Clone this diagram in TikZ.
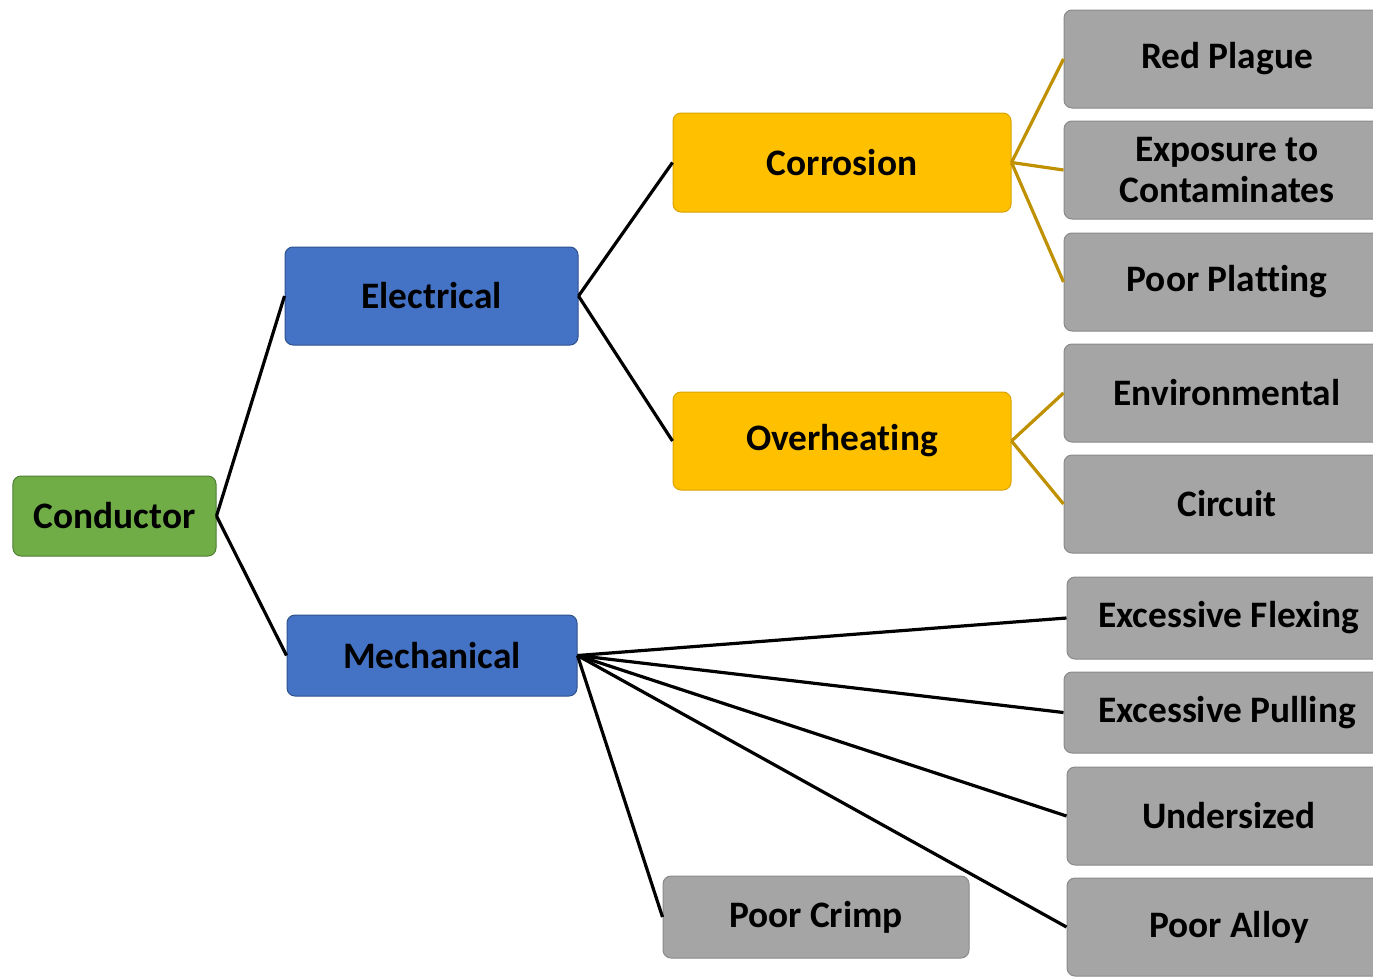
\documentclass[tikz,border=0pt]{standalone}
\usepackage{fontspec}
\setmainfont[RawFeature={-liga}]{Carlito}
\definecolor{cgreen}{HTML}{70AD47}
\definecolor{cgreenb}{HTML}{507E32}
\definecolor{cblue}{HTML}{4472C4}
\definecolor{cblueb}{HTML}{2F528F}
\definecolor{cyell}{HTML}{FFC000}
\definecolor{cyellb}{HTML}{D9A300}
\definecolor{cgray}{HTML}{A5A5A5}
\definecolor{cgrayb}{HTML}{8A8A8A}
\definecolor{cgold}{HTML}{BF9000}
\tikzset{
  box/.style={rounded corners=8bp, line width=1bp, align=center, inner sep=0pt,
    font=\fontsize{37.5}{41}\selectfont\bfseries, text=black},
  gbox/.style={box, fill=cgreen, draw=cgreenb},
  bbox/.style={box, fill=cblue, draw=cblueb},
  ybox/.style={box, fill=cyell, draw=cyellb},
  rbox/.style={box, fill=cgray, draw=cgrayb},
  blk/.style={line width=3.2bp, draw=black},
  gld/.style={line width=3.2bp, draw=cgold},
}
\begin{document}
\begin{tikzpicture}[x=1bp,y=-1bp]
\useasboundingbox (0,0) rectangle (1373,976);
\node[gbox, minimum width=203bp, minimum height=80bp] (cond) at (114.5,516) {Conductor};
\node[bbox, minimum width=293bp, minimum height=98bp] (elec) at (431.5,296) {Electrical};
\node[bbox, minimum width=290bp, minimum height=81bp] (mech) at (432,655.5) {Mechanical};
\node[ybox, minimum width=338bp, minimum height=99bp] (corr) at (842,162.5) {Corrosion};
\node[ybox, minimum width=338bp, minimum height=98bp] (over) at (842,441) {Overheating};
\node[rbox, minimum width=326bp, minimum height=98bp] (red) at (1227,59) {Red Plague};
\node[rbox, minimum width=326bp, minimum height=98bp] (expo) at (1227,170) {Exposure to\\Contaminates};
\node[rbox, minimum width=326bp, minimum height=98bp] (plat) at (1227,282) {Poor Platting};
\node[rbox, minimum width=326bp, minimum height=98bp] (env) at (1227,393) {Environmental};
\node[rbox, minimum width=326bp, minimum height=98bp] (circ) at (1227,504) {Circuit};
\node[rbox, minimum width=324bp, minimum height=82bp] (flex) at (1229,618) {Excessive Flexing};
\node[rbox, minimum width=326bp, minimum height=81bp] (pull) at (1227,712.5) {Excessive Pulling};
\node[rbox, minimum width=324bp, minimum height=98bp] (under) at (1229,816) {Undersized};
\node[rbox, minimum width=324bp, minimum height=98bp] (alloy) at (1229,927) {Poor Alloy};
\node[rbox, minimum width=306bp, minimum height=82bp] (crimp) at (816,917) {Poor Crimp};
\draw[blk] (cond.east) -- (elec.west);
\draw[blk] (cond.east) -- (mech.west);
\draw[blk] (elec.east) -- (corr.west);
\draw[blk] (elec.east) -- (over.west);
\draw[gld] (corr.east) -- (red.west);
\draw[gld] (corr.east) -- (expo.west);
\draw[gld] (corr.east) -- (plat.west);
\draw[gld] (over.east) -- (env.west);
\draw[gld] (over.east) -- (circ.west);
\draw[blk] (mech.east) -- (flex.west);
\draw[blk] (mech.east) -- (pull.west);
\draw[blk] (mech.east) -- (under.west);
\draw[blk] (mech.east) -- (alloy.west);
\draw[blk] (mech.east) -- (crimp.west);
\end{tikzpicture}
\end{document}
